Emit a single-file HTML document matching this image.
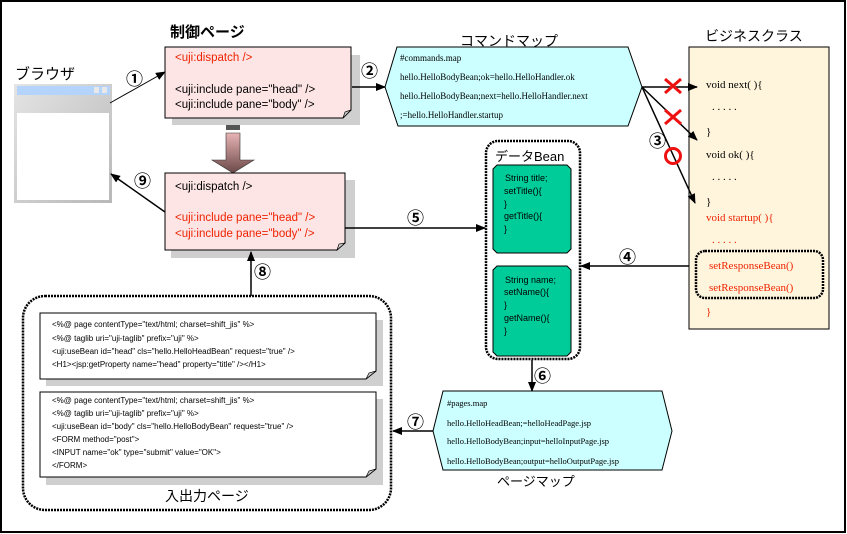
<!DOCTYPE html>
<html><head><meta charset="utf-8"><style>
html,body{margin:0;padding:0;background:#fff}
svg{display:block}
.j{font-family:"Liberation Sans","Noto Sans CJK JP",sans-serif}
.n{font-family:"Liberation Sans","Noto Sans CJK JP",sans-serif;font-size:17px;font-weight:bold}
.s{font-family:"Liberation Sans",sans-serif}
.t{font-family:"Liberation Serif",serif}
</style></head><body>
<svg width="847" height="534" viewBox="0 0 847 534" xmlns="http://www.w3.org/2000/svg">
<defs>
<marker id="ah" markerWidth="10" markerHeight="8" refX="9" refY="4" orient="auto" markerUnits="userSpaceOnUse"><path d="M0,0 L10,4 L0,8 z" fill="#000"/></marker>
<linearGradient id="ga" x1="0" y1="0" x2="0" y2="1"><stop offset="0" stop-color="#e8b4b4"/><stop offset="1" stop-color="#6b4848"/></linearGradient>
<linearGradient id="gb" x1="0" y1="0" x2="1" y2="1"><stop offset="0" stop-color="#e4e4e4"/><stop offset="1" stop-color="#b8b8b8"/></linearGradient>
</defs>
<rect x="1" y="1" width="844" height="531" fill="#fff" stroke="#000" stroke-width="2"/>

<text x="15" y="79" class="j" font-size="15">ブラウザ</text>
<rect x="14" y="84" width="98" height="119" fill="url(#gb)"/>
<rect x="17" y="86" width="93" height="9" fill="#b4d4fc"/>
<rect x="94" y="87" width="5" height="6" fill="#e8e8e8"/><rect x="102" y="87" width="5" height="6" fill="#e8e8e8"/>
<rect x="17" y="113" width="92" height="87" fill="#fff"/>

<text x="170" y="37" class="j" font-size="15" font-weight="bold">制御ページ</text>
<rect x="172" y="55" width="188" height="70" fill="#cfcfcf"/>
<path d="M165,47 H351 V110 L343,118 H165 Z" fill="#fde5e5" stroke="#000"/>
<path d="M343,118 L345,112 L351,110 Z" fill="#ccc" stroke="#000" stroke-width=".7"/>
<text x="175" y="61" class="s" font-size="11.5" fill="#ee2200">&lt;uji:dispatch /&gt;</text>
<text x="175" y="93" class="s" font-size="11.5">&lt;uji:include pane="head" /&gt;</text>
<text x="175" y="108" class="s" font-size="11.5">&lt;uji:include pane="body" /&gt;</text>

<line x1="110" y1="103" x2="165" y2="72" stroke="#000" marker-end="url(#ah)"/>
<text x="126" y="85" class="n">①</text>

<rect x="226" y="125" width="14" height="5" fill="#555"/>
<path d="M226,133 H240 V160 H254 L233,173 L212,160 H226 Z" fill="url(#ga)" stroke="#333" stroke-width=".6"/>

<rect x="171" y="180" width="184" height="78" fill="#cfcfcf"/>
<path d="M165,173 H345 V243 L337,250 H165 Z" fill="#fde5e5" stroke="#000"/>
<path d="M337,250 L339,244 L345,243 Z" fill="#ccc" stroke="#000" stroke-width=".7"/>
<text x="175" y="190" class="s" font-size="11.5">&lt;uji:dispatch /&gt;</text>
<text x="175" y="221" class="s" font-size="11.5" fill="#ee2200">&lt;uji:include pane="head" /&gt;</text>
<text x="175" y="237" class="s" font-size="11.5" fill="#ee2200">&lt;uji:include pane="body" /&gt;</text>

<line x1="165" y1="212" x2="111" y2="174" stroke="#000" stroke-width="1.5" marker-end="url(#ah)"/>
<text x="134" y="187" class="n">⑨</text>

<line x1="345" y1="228" x2="485" y2="228" stroke="#000" stroke-width="1.5" marker-end="url(#ah)"/>
<text x="407" y="224" class="n">⑤</text>

<line x1="251" y1="296" x2="251" y2="252" stroke="#000" stroke-width="1.5" marker-end="url(#ah)"/>
<text x="254" y="278" class="n">⑧</text>

<text x="460" y="46" class="j" font-size="14">コマンドマップ</text>
<path d="M397,47 H628 L642,87 L628,126 H398 L385,87 Z" fill="#ccffff" stroke="#000"/>
<g class="t" font-size="9">
<text x="400" y="61">#commands.map</text>
<text x="400" y="80">hello.HelloBodyBean;ok=hello.HelloHandler.ok</text>
<text x="400" y="99">hello.HelloBodyBean;next=hello.HelloHandler.next</text>
<text x="400" y="118">;=hello.HelloHandler.startup</text>
</g>
<line x1="352" y1="87" x2="385" y2="87" stroke="#000" stroke-width="1.5" marker-end="url(#ah)"/>
<text x="361" y="77" class="n">②</text>

<text x="705" y="41" class="j" font-size="14">ビジネスクラス</text>
<rect x="689" y="47" width="140" height="282" fill="#fff5dc" stroke="#000"/>
<g class="t" font-size="11">
<text x="706" y="88">void next(   ){</text>
<text x="712" y="110">. . . . .</text>
<text x="706" y="135">}</text>
<text x="706" y="158">void ok(   ){</text>
<text x="712" y="180">. . . . .</text>
<text x="706" y="205">}</text>
<g fill="#ee2200">
<text x="706" y="221">void startup(   ){</text>
<text x="712" y="243">. . . . .</text>
<text x="709" y="269">setResponseBean()</text>
<text x="709" y="291">setResponseBean()</text>
<text x="706" y="315">}</text>
</g></g>
<rect x="696" y="251" width="127" height="47" rx="9" fill="none" stroke="#000" stroke-width="2.5" stroke-dasharray="2,1"/>

<line x1="642" y1="87" x2="697" y2="87" stroke="#000" stroke-width="1.5" marker-end="url(#ah)"/>
<line x1="642" y1="87" x2="697" y2="140" stroke="#000" stroke-width="1.5" marker-end="url(#ah)"/>
<line x1="642" y1="87" x2="695" y2="203" stroke="#000" stroke-width="1.5" marker-end="url(#ah)"/>
<g stroke="#ee1111" stroke-width="3">
<line x1="665" y1="79" x2="681" y2="93"/><line x1="681" y1="79" x2="665" y2="93"/>
<line x1="665" y1="110" x2="681" y2="124"/><line x1="681" y1="110" x2="665" y2="124"/>
</g>
<circle cx="673" cy="156" r="7.5" fill="none" stroke="#ee1111" stroke-width="3"/>
<text x="649" y="147" class="n">③</text>

<rect x="486" y="141" width="94" height="218" rx="12" fill="#fff" stroke="#000" stroke-width="2.5" stroke-dasharray="2,1"/>
<text x="495" y="161" class="j" font-size="13">データBean</text>
<path d="M497,165 H567 L571,169 V249 L567,253 H497 L493,249 V169 Z" fill="#00cc99" stroke="#000"/>
<g class="s" font-size="9">
<text x="505" y="181">String title;</text>
<text x="504" y="194">setTitle(){</text>
<text x="504" y="207">}</text>
<text x="504" y="219">getTitle(){</text>
<text x="504" y="232">}</text>
</g>
<path d="M497,266 H567 L571,270 V352 L567,356 H497 L493,352 V270 Z" fill="#00cc99" stroke="#000"/>
<g class="s" font-size="9">
<text x="505" y="283">String name;</text>
<text x="504" y="295">setName(){</text>
<text x="504" y="308">}</text>
<text x="504" y="321">getName(){</text>
<text x="504" y="334">}</text>
</g>
<line x1="689" y1="266" x2="581" y2="266" stroke="#000" stroke-width="1.5" marker-end="url(#ah)"/>
<text x="619" y="263" class="n">④</text>
<line x1="532" y1="360" x2="532" y2="391" stroke="#000" stroke-width="1.5" marker-end="url(#ah)"/>
<text x="534" y="382" class="n">⑥</text>

<path d="M443,391 H662 L672,431 L662,470 H443 L433,431 Z" fill="#ccffff" stroke="#000"/>
<g class="t" font-size="8.5">
<text x="447" y="406">#pages.map</text>
<text x="447" y="426">hello.HelloHeadBean;=helloHeadPage.jsp</text>
<text x="447" y="444">hello.HelloBodyBean;input=helloInputPage.jsp</text>
<text x="447" y="464">hello.HelloBodyBean;output=helloOutputPage.jsp</text>
</g>
<text x="497" y="486" class="j" font-size="13">ページマップ</text>
<line x1="433" y1="431" x2="393" y2="431" stroke="#000" stroke-width="1.5" marker-end="url(#ah)"/>
<text x="407" y="428" class="n">⑦</text>

<rect x="23" y="296" width="368" height="214" rx="22" fill="#fff" stroke="#000" stroke-width="2.5" stroke-dasharray="2,1"/>
<text x="165" y="501" class="j" font-size="14">入出力ページ</text>
<rect x="46" y="320" width="337" height="66" fill="#cfcfcf"/>
<path d="M40,313 H376 V371 L366,379 H40 Z" fill="#fff" stroke="#000"/>
<path d="M366,379 L369,373 L376,371 Z" fill="#ccc" stroke="#000" stroke-width=".7"/>
<g class="s" font-size="8">
<text x="52" y="327">&lt;%@ page contentType="text/html; charset=shift_jis" %&gt;</text>
<text x="52" y="341">&lt;%@ taglib uri="uji-taglib" prefix="uji" %&gt;</text>
<text x="52" y="354">&lt;uji:useBean id="head" cls="hello.HelloHeadBean" request="true" /&gt;</text>
<text x="52" y="367">&lt;H1&gt;&lt;jsp:getProperty name="head" property="title" /&gt;&lt;/H1&gt;</text>
</g>
<rect x="46" y="399" width="337" height="86" fill="#cfcfcf"/>
<path d="M40,392 H376 V469 L366,477 H40 Z" fill="#fff" stroke="#000"/>
<path d="M366,477 L369,471 L376,469 Z" fill="#ccc" stroke="#000" stroke-width=".7"/>
<g class="s" font-size="8">
<text x="52" y="403">&lt;%@ page contentType="text/html; charset=shift_jis" %&gt;</text>
<text x="52" y="416">&lt;%@ taglib uri="uji-taglib" prefix="uji" %&gt;</text>
<text x="52" y="429">&lt;uji:useBean id="body" cls="hello.HelloBodyBean" request="true" /&gt;</text>
<text x="52" y="442">&lt;FORM method="post"&gt;</text>
<text x="52" y="455">&lt;INPUT name="ok" type="submit" value="OK"&gt;</text>
<text x="52" y="468">&lt;/FORM&gt;</text>
</g>
</svg>
</body></html>
